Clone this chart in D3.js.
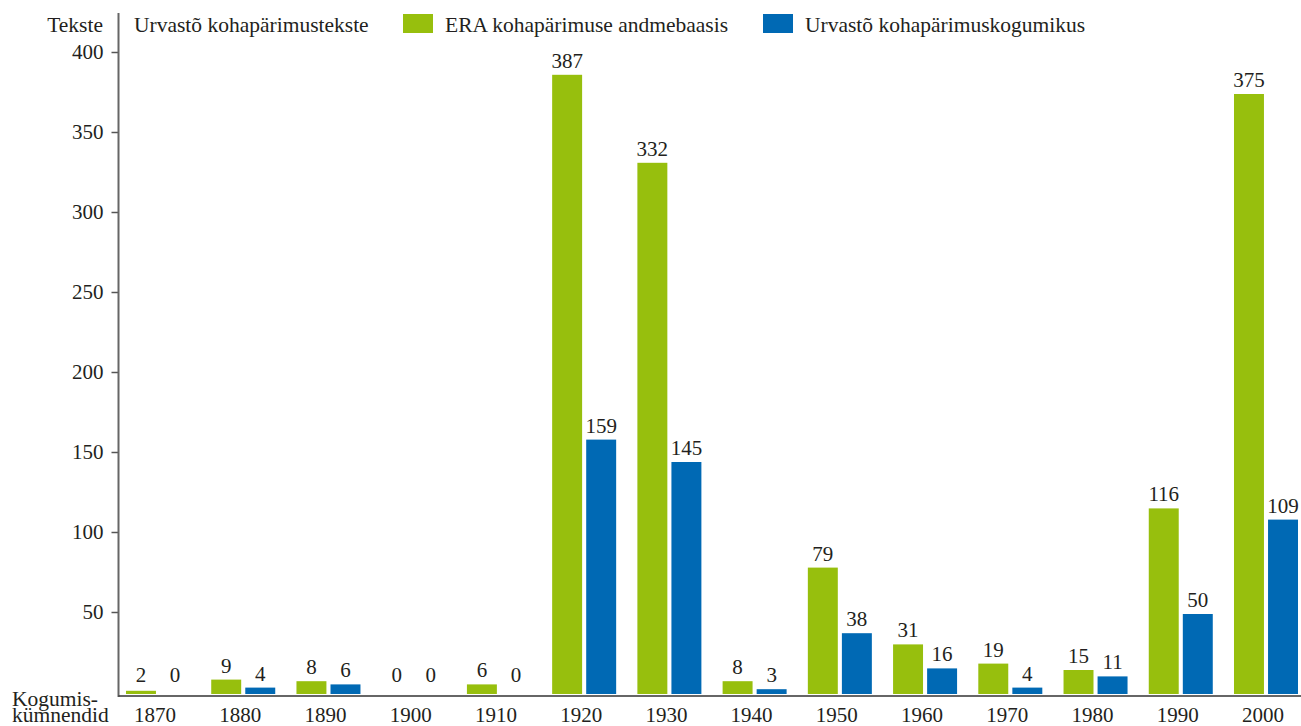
<!DOCTYPE html>
<html>
<head>
<meta charset="utf-8">
<script src="https://cdn.jsdelivr.net/npm/d3@7"></script>
<style>
  body { margin: 0; background: #fff; }
</style>
</head>
<body>
<svg id="chart"></svg>
<script>
const width = 1301;
const height = 726;
const font = '"Liberation Serif", "Times New Roman", "DejaVu Serif", serif';
const numSize = 21;
const textSize = 21.5;

// data
const decades = ['1870', '1880', '1890', '1900', '1910', '1920', '1930', '1940', '1950', '1960', '1970', '1980', '1990', '2000'];
const eraValues = [2, 9, 8, 0, 6, 387, 332, 8, 79, 31, 19, 15, 116, 375];
const kogumikValues = [0, 4, 6, 0, 0, 159, 145, 3, 38, 16, 4, 11, 50, 109];
const yTicks = [50, 100, 150, 200, 250, 300, 350, 400];
const seriesNames = ['ERA kohapärimuse andmebaasis', 'Urvastõ kohapärimuskogumikus'];
const colors = ['#97bf0d', '#0069b4'];

const rows = decades.map((d, i) => ({decade: d, values: [eraValues[i], kogumikValues[i]]}));

const svg = d3.select('#chart')
            .attr('width', width)
            .attr('height', height)
            .attr('font-family', font)
            .style('font-family', font);

const axisX = 118.5;
const baseY = 694;

const x = d3.scaleBand().domain(decades).range([126, 1298]).paddingInner(0.249).paddingOuter(0);
const xInner = d3.scaleBand().domain([0, 1]).range([0, x.bandwidth()]).paddingInner(0.12);
const y = d3.scaleLinear().domain([0, 400]).range([baseY, 54]);

// bars
const groups = svg.selectAll('g.group').data(rows).enter()
            .append('g')
            .attr('class', 'group')
            .attr('transform', d => `translate(${x(d.decade)},0)`);

groups.selectAll('rect').data(d => d.values).enter()
            .append('rect')
            .attr('x', (v, i) => xInner(i))
            .attr('y', v => y(v))
            .attr('width', xInner.bandwidth())
            .attr('height', v => baseY - y(v))
            .attr('fill', (v, i) => colors[i]);

groups.selectAll('text.val').data(d => d.values).enter()
            .append('text')
            .attr('class', 'val')
            .attr('x', (v, i) => xInner(i) + xInner.bandwidth() / 2)
            .attr('y', v => Math.min(y(v), 689) - 7)
            .attr('text-anchor', 'middle')
            .attr('font-size', numSize)
            .attr('fill', '#231f20')
            .text(v => v);

// y axis
const yAxis = svg.append('g')
            .attr('transform', `translate(${axisX},-2)`)
            .call(d3.axisLeft(y).tickValues(yTicks).tickSize(7).tickPadding(8));
yAxis.attr('font-family', font);
yAxis.select('.domain').remove();
yAxis.selectAll('line').attr('stroke', '#555').attr('stroke-width', 1.5);
yAxis.selectAll('text').attr('font-size', numSize).style('font-family', font).attr('fill', '#231f20');

svg.append('line')
    .attr('x1', axisX).attr('x2', axisX)
    .attr('y1', 13).attr('y2', 697)
    .attr('stroke', '#666').attr('stroke-width', 2);

svg.append('text')
    .attr('x', 103).attr('y', 32)
    .attr('text-anchor', 'end')
    .attr('font-size', textSize)
    .attr('fill', '#231f20')
    .text('Tekste');

// x axis
const xAxis = svg.append('g')
            .attr('transform', `translate(0,${baseY + 2})`)
            .call(d3.axisBottom(x).tickSize(0).tickPadding(11));
xAxis.attr('font-family', font);
xAxis.select('.domain').attr('d', `M${axisX},0H${width}`).attr('stroke', '#333').attr('stroke-width', 1.5);
xAxis.selectAll('text').attr('font-size', numSize).style('font-family', font).attr('fill', '#231f20').attr('dx', -3);

svg.append('text')
    .attr('x', 12).attr('y', 706)
    .attr('font-size', textSize)
    .attr('fill', '#231f20')
    .text('Kogumis-');
svg.append('text')
    .attr('x', 12).attr('y', 722)
    .attr('font-size', textSize)
    .attr('fill', '#231f20')
    .text('kümnendid');

// legend
svg.append('text')
    .attr('x', 134).attr('y', 32)
    .attr('font-size', textSize)
    .attr('fill', '#231f20')
    .text('Urvastõ kohapärimustekste');

const legendX = [403, 763];
const legend = svg.selectAll('g.legend').data(seriesNames).enter()
            .append('g')
            .attr('class', 'legend')
            .attr('transform', (d, i) => `translate(${legendX[i]},14)`);
legend.append('rect')
    .attr('width', 30).attr('height', 19)
    .attr('fill', (d, i) => colors[i]);
legend.append('text')
    .attr('x', 42).attr('y', 18)
    .attr('font-size', textSize)
    .attr('fill', '#231f20')
    .text(d => d);
</script>
</body>
</html>
